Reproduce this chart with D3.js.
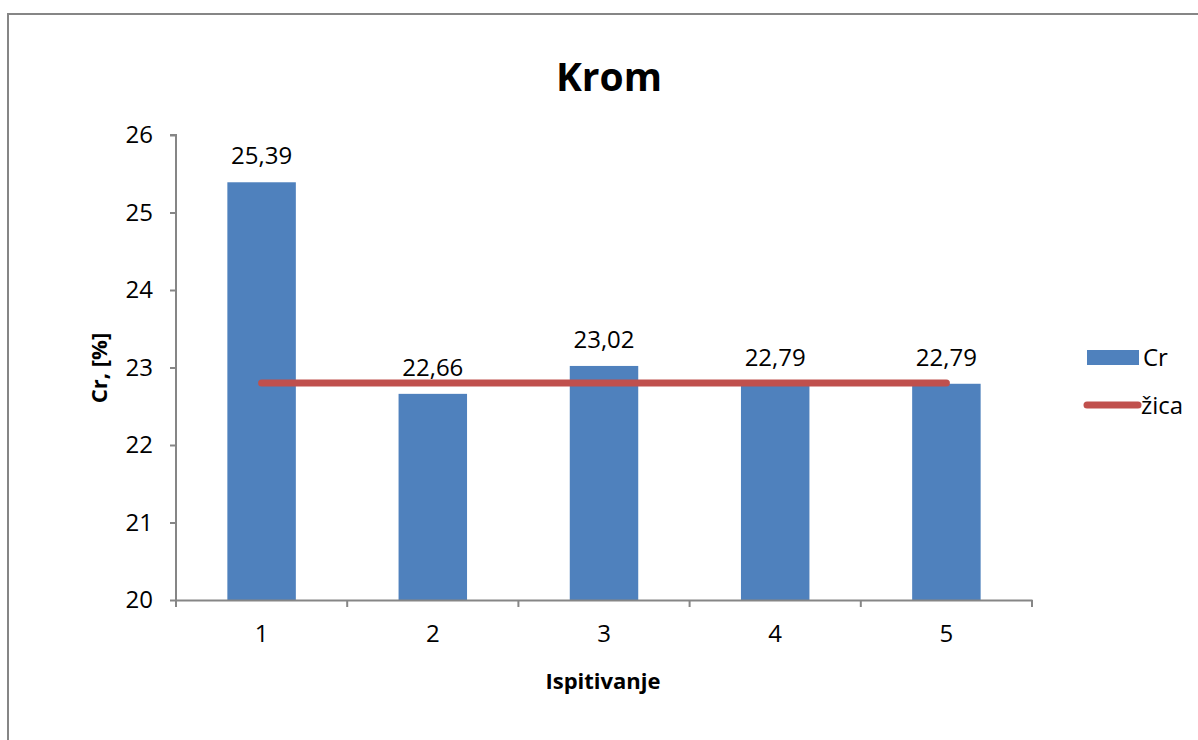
<!DOCTYPE html>
<html><head><meta charset="utf-8">
<script src="https://cdn.jsdelivr.net/npm/d3@7"></script>
<style>body{margin:0;background:#fff;}svg{display:block;font-family:"Open Sans","Liberation Sans",sans-serif;}</style>
</head><body>
<svg id="c" width="1198" height="740"></svg>
<script>
const categories = ["1","2","3","4","5"];
const crValues = [25.39, 22.66, 23.02, 22.79, 22.79];
const crLabels = ["25,39","22,66","23,02","22,79","22,79"];
const zicaValues = [22.8, 22.8, 22.8, 22.8, 22.8];
const yTicks = [20,21,22,23,24,25,26];

const svg = d3.select("#c");
const m = {left:176, right:1032, top:135, bottom:600};
const grey = "#868686";

svg.append("rect").attr("x",8).attr("y",14).attr("width",1300).attr("height",900)
  .attr("fill","none").attr("stroke",grey).attr("stroke-width",2);

const x = d3.scaleBand().domain(categories).range([m.left,m.right]).paddingInner(0).paddingOuter(0);
const y = d3.scaleLinear().domain([20,26]).range([m.bottom,m.top]);

// bars
const bw = x.bandwidth()*0.4;
svg.append("g").selectAll("rect").data(crValues).join("rect")
  .attr("x",(d,i)=>x(categories[i])+x.bandwidth()/2-bw/2)
  .attr("y",d=>y(d)).attr("width",bw).attr("height",d=>y(20)-y(d))
  .attr("fill","#4F81BD");

// axes
const yAxis = svg.append("g").attr("transform",`translate(${m.left},0)`)
  .call(d3.axisLeft(y).tickValues(yTicks).tickSize(6).tickPadding(17).tickFormat(d3.format("d")));
const xAxis = svg.append("g").attr("transform",`translate(0,${m.bottom})`)
  .call(d3.axisBottom(x).tickSize(0).tickPadding(25));
[yAxis,xAxis].forEach(a=>{
  a.select(".domain").attr("stroke",grey).attr("stroke-width",2);
  a.selectAll(".tick line").attr("stroke",grey).attr("stroke-width",2);
  a.selectAll("text").attr("fill","#000").style("font-size","24px").style("font-family","'Open Sans','Liberation Sans',sans-serif");
});
yAxis.select(".domain").attr("d",`M-6,${m.top}H0V${m.bottom}`);
// x ticks at category boundaries
const bounds = categories.map(c=>x(c)).concat([m.right]);
svg.append("g").selectAll("line").data(bounds).join("line")
  .attr("x1",d=>d).attr("x2",d=>d).attr("y1",m.bottom).attr("y2",m.bottom+7)
  .attr("stroke",grey).attr("stroke-width",2);

// line
const line = d3.line().x((d,i)=>x(categories[i])+x.bandwidth()/2).y(d=>y(d));
svg.append("path").datum(zicaValues).attr("d",line).attr("fill","none")
  .attr("stroke","#C0504D").attr("stroke-width",7).attr("stroke-linecap","round");

// value labels
svg.append("g").selectAll("text").data(crValues).join("text")
  .attr("x",(d,i)=>x(categories[i])+x.bandwidth()/2).attr("y",d=>y(d)-18)
  .attr("text-anchor","middle").style("font-size","24px").text((d,i)=>crLabels[i]);

// titles
svg.append("text").attr("x",609).attr("y",91).attr("text-anchor","middle")
  .style("font-size","39px").style("font-weight","bold").text("Krom");
svg.append("text").attr("x",603).attr("y",689).attr("text-anchor","middle")
  .style("font-size","22px").style("font-weight","bold").text("Ispitivanje");
svg.append("text").attr("transform","translate(107,368) rotate(-90)").attr("text-anchor","middle")
  .style("font-size","22px").style("font-weight","bold").text("Cr, [%]");

// legend
const lg = svg.append("g");
lg.append("rect").attr("x",1087).attr("y",350).attr("width",52).attr("height",15).attr("fill","#4F81BD");
lg.append("text").attr("x",1143).attr("y",366).style("font-size","24px").text("Cr");
lg.append("line").attr("x1",1087).attr("x2",1138).attr("y1",405).attr("y2",405)
  .attr("stroke","#C0504D").attr("stroke-width",7).attr("stroke-linecap","round");
lg.append("text").attr("x",1141).attr("y",414).style("font-size","24px").text("žica");
</script>
</body></html>
